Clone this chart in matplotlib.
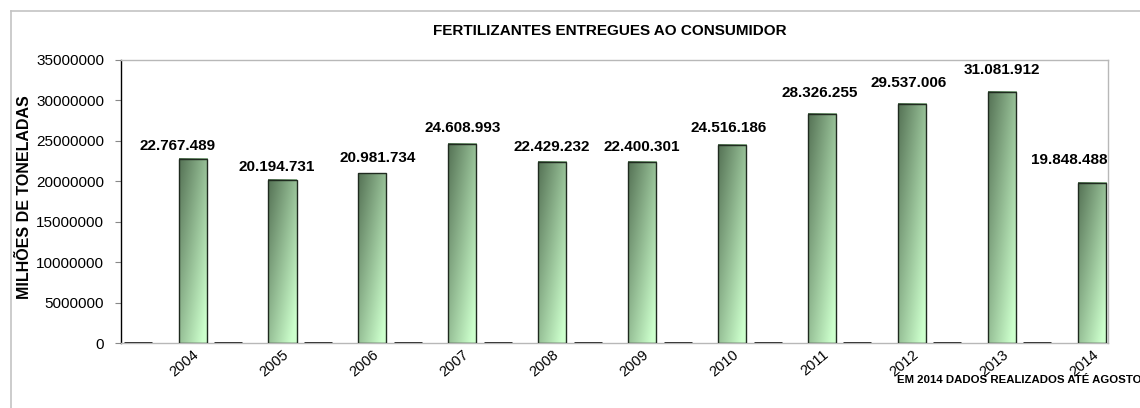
import matplotlib
matplotlib.use("Agg")
import matplotlib.pyplot as plt
import numpy as np
from matplotlib.lines import Line2D

plt.rcParams["font.family"] = ["Liberation Sans", "DejaVu Sans"]

# data
years = ["2004", "2005", "2006", "2007", "2008", "2009", "2010", "2011", "2012", "2013", "2014"]
delivered = [22767489, 20194731, 20981734, 24608993, 22429232, 22400301,
             24516186, 28326255, 29537006, 31081912, 19848488]
empty_series = [0, 0, 0, 0, 0, 0, 0, 0, 0, 0, 0]

# layout of the value labels (pixels above bar top, pixels to the side)
label_dy = [13, 13, 15, 16, 15, 15, 17, 21, 21, 22, 23]
label_dx = [-15, -6, 5, 0, -1, 0, -3, -2, -3, 0, -23]

DARK = np.array([0x55, 0x72, 0x55]) / 255
LIGHT = np.array([0xcc, 0xff, 0xcc]) / 255


def gradient(nr=120, nc=30):
    u = np.linspace(0, 1, nc)[None, :]
    v = np.linspace(0, 1, nr)[:, None]
    t = np.clip(0.55 * u + 0.55 * v, 0, 1)
    return DARK + (LIGHT - DARK) * t[..., None]


W, H = 1140, 408
fig = plt.figure(figsize=(W / 100, H / 100), dpi=100, facecolor="white")
ax = fig.add_axes([120.7 / W, 1 - 343.3 / H, (1108 - 120.7) / W, (343.3 - 60) / H])

x = np.arange(len(years))
bw = 0.312
grad = gradient()
for xi, v in zip(x, delivered):
    ax.imshow(grad, extent=[xi - bw / 2, xi + bw / 2, 0, v], aspect="auto",
              origin="upper", zorder=2, interpolation="bilinear")
ax.bar(x, delivered, width=bw, facecolor="none", edgecolor="#1f2a1f", linewidth=1.0, zorder=3)
ax.bar(x - 0.606, empty_series, width=bw, facecolor="none", edgecolor="black", linewidth=1.8, zorder=3)

for xi, v, dy, dx in zip(x, delivered, label_dy, label_dx):
    ax.annotate(f"{v:,}".replace(",", "."), (xi, v), xytext=(dx, dy), textcoords="offset pixels",
                ha="center", va="center", fontsize=11, fontweight="bold", color="black")

ax.set_xlim(-0.799, 10.18)
ax.set_ylim(0, 35000000)
ax.set_yticks(np.arange(0, 35000001, 5000000))
ax.set_yticklabels([str(t) for t in range(0, 35000001, 5000000)], fontsize=11)
ax.set_xticks(x)
ax.set_xticklabels(years, rotation=40, ha="right", rotation_mode="anchor", fontsize=10.5)
ax.tick_params(axis="x", length=0, pad=3)
ax.tick_params(axis="y", length=4, color="#888888", pad=8)

for s in ["top", "right", "bottom"]:
    ax.spines[s].set_color("#b8b8b8")
    ax.spines[s].set_linewidth(1.0)
ax.spines["left"].set_color("black")
ax.spines["left"].set_linewidth(1.0)

fig.text(610 / W, 1 - 31 / H, "FERTILIZANTES ENTREGUES AO CONSUMIDOR", ha="center", va="center",
         fontsize=11, fontweight="bold")
fig.text(25 / W, 1 - 197 / H, "MILHÕES DE TONELADAS", ha="center", va="center", rotation=90,
         fontsize=11.5, fontweight="bold")
fig.text(897 / W, 1 - 380 / H, "EM 2014 DADOS REALIZADOS ATÉ AGOSTO", ha="left", va="center",
         fontsize=8.2, fontweight="bold")

# outer chart frame
fig.add_artist(Line2D([10.7 / W, 1], [1 - 10.7 / H, 1 - 10.7 / H], color="#c4c4c4", lw=1.2))
fig.add_artist(Line2D([10.7 / W, 10.7 / W], [0, 1 - 10.7 / H], color="#c4c4c4", lw=1.2))

fig.savefig("out.png", dpi=100, facecolor="white")
